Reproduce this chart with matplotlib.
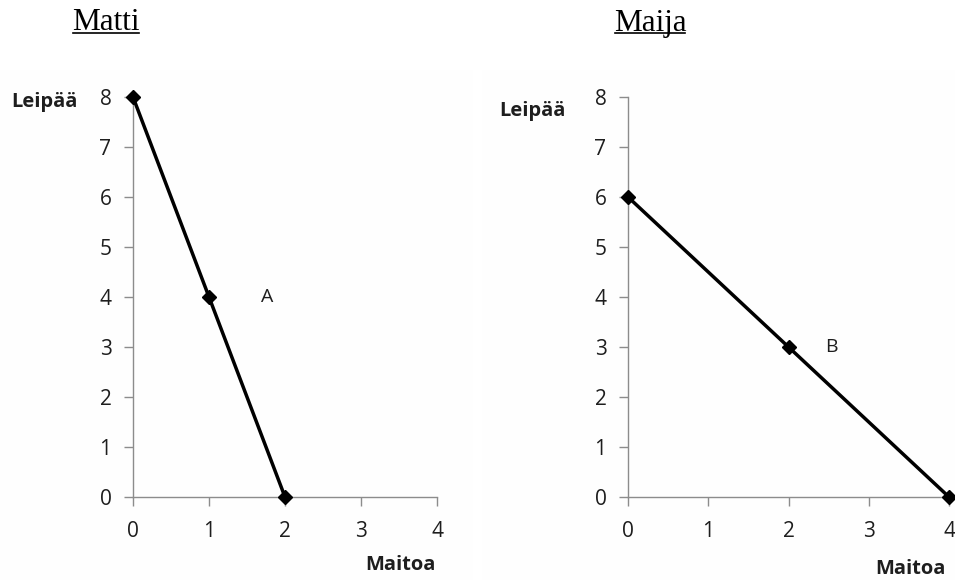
import matplotlib
matplotlib.use('Agg')
import matplotlib.pyplot as plt
from matplotlib.lines import Line2D

# ---------- Data ----------
matti_milk = [0, 1, 2]
matti_bread = [8, 4, 0]
maija_milk = [0, 2, 4]
maija_bread = [6, 3, 0]
x_ticks = [0, 1, 2, 3, 4]
y_ticks = [0, 1, 2, 3, 4, 5, 6, 7, 8]

TICK_FONT = 'Open Sans'
AXIS_GRAY = '#8c8c8c'
TEXT = '#1e1e1e'

fig = plt.figure(figsize=(9.55, 5.8), dpi=100)

# very faint chart-area backgrounds
fig.patches.append(plt.Rectangle((0.0, 0.0), 0.495, 0.88, transform=fig.transFigure,
                                 facecolor='#fefefe', edgecolor='none', zorder=-5))
fig.patches.append(plt.Rectangle((0.505, 0.0), 0.495, 0.88, transform=fig.transFigure,
                                 facecolor='#fefefe', edgecolor='none', zorder=-5))

ax1 = fig.add_axes([133 / 955, 83 / 580, 304 / 955, 400 / 580])
ax2 = fig.add_axes([628 / 955, 83 / 580, 321 / 955, 400 / 580])


def style(ax):
    ax.set_xlim(0, 4)
    ax.set_ylim(0, 8)
    ax.set_xticks(x_ticks)
    ax.set_yticks(y_ticks)
    ax.patch.set_alpha(0)
    for s in ['top', 'right']:
        ax.spines[s].set_visible(False)
    for s in ['left', 'bottom']:
        ax.spines[s].set_color(AXIS_GRAY)
        ax.spines[s].set_linewidth(1.0)
    ax.tick_params(axis='both', direction='out', length=6.5, width=1.0,
                   color=AXIS_GRAY, labelsize=15, labelcolor=TEXT)
    ax.tick_params(axis='y', pad=9)
    ax.tick_params(axis='x', pad=11)
    for lab in ax.get_xticklabels() + ax.get_yticklabels():
        lab.set_fontfamily(TICK_FONT)


style(ax1)
style(ax2)

ax1.plot(matti_milk, matti_bread, color='black', linewidth=2.5,
         marker='D', markersize=7.5, clip_on=False, zorder=5)
ax2.plot(maija_milk, maija_bread, color='black', linewidth=2.5,
         marker='D', markersize=7.5, clip_on=False, zorder=5)

ax1.text(1.76, 4, 'A', fontsize=14, fontfamily=TICK_FONT, color=TEXT,
         ha='center', va='center')
ax2.text(2.54, 3, 'B', fontsize=14, fontfamily=TICK_FONT, color=TEXT,
         ha='center', va='center')

# axis names
fig.text(11 / 955, 1 - 102 / 580, 'Leipää', fontsize=14.5, fontweight='bold',
         fontfamily=TICK_FONT, color=TEXT, ha='left', va='center')
fig.text(499 / 955, 1 - 111 / 580, 'Leipää', fontsize=14.5, fontweight='bold',
         fontfamily=TICK_FONT, color=TEXT, ha='left', va='center')
fig.text(436 / 955, 1 - 565 / 580, 'Maitoa', fontsize=14.5, fontweight='bold',
         fontfamily=TICK_FONT, color=TEXT, ha='right', va='center')
fig.text(946 / 955, 1 - 569 / 580, 'Maitoa', fontsize=14.5, fontweight='bold',
         fontfamily=TICK_FONT, color=TEXT, ha='right', va='center')

# underlined titles
for x0, x1, name in [(73, 139, 'Matti'), (615, 685, 'Maija')]:
    fig.text((x0 + x1) / 2 / 955, 1 - 23 / 580, name, fontsize=22.5,
             fontfamily='Liberation Serif', color='black', ha='center', va='center')
    fig.add_artist(Line2D([x0 / 955, x1 / 955], [1 - 33 / 580, 1 - 33 / 580],
                          transform=fig.transFigure, color='black', linewidth=1.2))

fig.savefig('out.png', dpi=100, facecolor='white')
